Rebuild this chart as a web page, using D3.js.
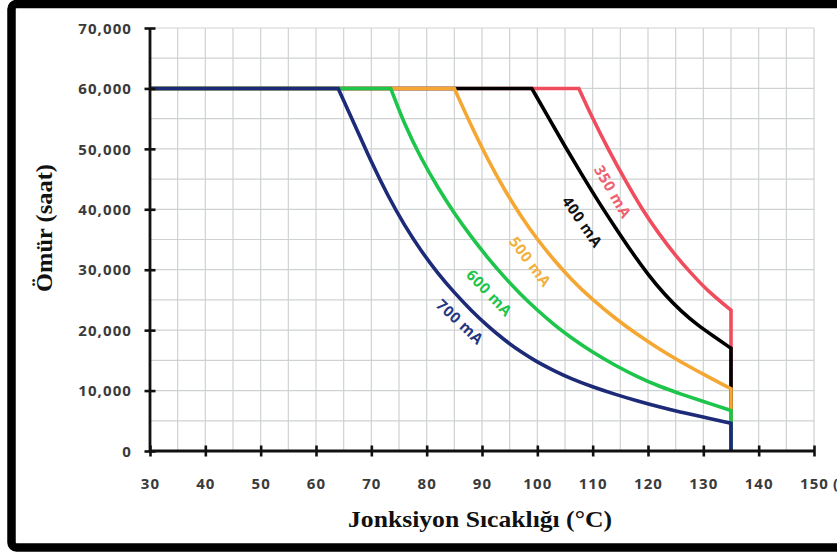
<!DOCTYPE html>
<html>
<head>
<meta charset="utf-8">
<script src="https://cdn.jsdelivr.net/npm/d3@7"></script>
<style>
  html, body { margin: 0; padding: 0; background: #fff; }
  svg { display: block; }
</style>
</head>
<body>
<svg id="chart" width="837" height="552"></svg>
<script>
// ---- Data ----
const xTicks = [30, 40, 50, 60, 70, 80, 90, 100, 110, 120, 130, 140, 150];
const yTicks = [0, 10000, 20000, 30000, 40000, 50000, 60000, 70000];
const seriesNames = ["350 mA", "400 mA", "500 mA", "600 mA", "700 mA"];

const t350 = [30, 107.5, 110, 113, 116, 119, 122, 125, 128, 131, 135];
const v350 = [60000, 60000, 55000, 49600, 44600, 39900, 35900, 32300, 29200, 26300, 23300];

const t400 = [30, 99, 102, 105, 108, 111, 114, 117, 120, 123, 126, 129, 132, 135];
const v400 = [60000, 60000, 55200, 50400, 45800, 41300, 37100, 33000, 29200, 25900, 23100, 20800, 18900, 17000];

const t500 = [30, 85, 88, 91, 94, 97, 100, 103, 106, 110, 114, 118, 122, 126, 130, 135];
const v500 = [60000, 60000, 53900, 48300, 43300, 38900, 35000, 31600, 28500, 25000, 22000, 19300, 16900, 14700, 12700, 10300];

const t600 = [30, 73.5, 76, 79, 82, 85, 88, 91, 94, 97, 100, 103, 106, 110, 114, 118, 122, 126, 130, 135];
const v600 = [60000, 60000, 54000, 48400, 43600, 39300, 35500, 32000, 28800, 25900, 23300, 20900, 18800, 16300, 14200, 12300, 10700, 9400, 8200, 6700];

const t700 = [30, 64, 67, 70, 73, 76, 79, 82, 85, 88, 91, 94, 97, 100, 103, 106, 110, 114, 118, 122, 126, 130, 135];
const v700 = [60000, 60000, 54000, 47800, 42200, 37300, 33100, 29400, 26200, 23300, 20700, 18400, 16400, 14700, 13300, 12000, 10600, 9400, 8300, 7300, 6400, 5600, 4600];

// label anchor (data coords) and rotation
const labelT = [113.6, 108.1, 98.7, 91.3, 86.0];
const labelV = [42900, 37900, 31300, 26150, 21350];
const labelAngle = [60, 55, 53, 46, 43];

const lineColors = ["#ef4d5d", "#000000", "#f5a733", "#1ec54b", "#1c2a78"];
const labelColors = ["#f0606e", "#111111", "#f2b03c", "#1ec54b", "#24367f"];

const seriesT = [t350, t400, t500, t600, t700];
const seriesV = [v350, v400, v500, v600, v700];

// ---- Drawing ----
const svg = d3.select("#chart");

// outer black frame (open to the right, like the cropped reference)
svg.append("rect")
  .attr("x", 11.5).attr("y", 4)
  .attr("width", 1000).attr("height", 543.5)
  .attr("rx", 5)
  .attr("fill", "#fff")
  .attr("stroke", "#000")
  .attr("stroke-width", 8.5);

const x = d3.scaleLinear().domain([30, 150]).range([150, 814]);
const y = d3.scaleLinear().domain([0, 70000]).range([451, 28]);

// grid
const g = svg.append("g");
const gridX = d3.range(30, 150.1, 5);
const gridY = d3.range(0, 70000.1, 5000);
g.selectAll("line.gx").data(gridX).enter().append("line")
  .attr("x1", d => x(d)).attr("x2", d => x(d))
  .attr("y1", y(0)).attr("y2", y(70000))
  .attr("stroke", "#cfd2d2").attr("stroke-width", 1.2);
g.selectAll("line.gy").data(gridY).enter().append("line")
  .attr("x1", x(30)).attr("x2", x(150))
  .attr("y1", d => y(d)).attr("y2", d => y(d))
  .attr("stroke", "#cfd2d2").attr("stroke-width", 1.2);

// series
const curveGen = d3.line().x(d => x(d[0])).y(d => y(d[1])).curve(d3.curveBasis);
const plot = svg.append("g");
seriesT.forEach((ts, i) => {
  const vs = seriesV[i];
  const pts = ts.map((t, k) => [t, vs[k]]);
  const curvePart = curveGen(pts.slice(1));
  const last = pts[pts.length - 1];
  const d = "M" + x(pts[0][0]) + "," + y(pts[0][1]) +
            "L" + curvePart.slice(1) +
            "L" + x(last[0]) + "," + y(0);
  plot.append("path")
    .attr("d", d)
    .attr("fill", "none")
    .attr("stroke", lineColors[i])
    .attr("stroke-width", 3.6)
    .attr("stroke-linejoin", "miter");
});

// axes
const fontTick = "'Open Sans', 'DejaVu Sans', sans-serif";
const xAxis = svg.append("g").attr("transform", `translate(0,${y(0)})`)
  .call(d3.axisBottom(x).tickValues(xTicks).tickSize(6).tickPadding(0).tickFormat(d3.format("d")));
const yAxis = svg.append("g").attr("transform", `translate(${x(30)},0)`)
  .call(d3.axisLeft(y).tickValues(yTicks).tickSize(6).tickPadding(0).tickFormat(d3.format(",")));

[xAxis, yAxis].forEach(ax => {
  ax.select(".domain").attr("stroke", "#111").attr("stroke-width", 2.8);
  ax.selectAll(".tick line").attr("stroke", "#111").attr("stroke-width", 2.6);
  ax.selectAll(".tick text")
    .attr("fill", "#3a3a3a")
    .style("font-family", fontTick)
    .style("font-weight", "700")
    .style("font-size", "15px")
    .style("letter-spacing", "1.1px");
});
xAxis.select(".domain").attr("d", `M${x(30)},0H${x(150)}`);
yAxis.select(".domain").attr("d", `M0,${y(0)}V${y(70000)}`);
xAxis.selectAll(".tick line").attr("y1", -5.5).attr("y2", 5.5);
yAxis.selectAll(".tick line").attr("x1", -5.5).attr("x2", 5.5);
xAxis.selectAll(".tick text").attr("y", 27).attr("dy", "0.71em");
yAxis.selectAll(".tick text").attr("x", -18).attr("dy", "0.35em");

// unit label cut off at the right edge in the reference
svg.append("text")
  .attr("x", x(150) + 19).attr("y", y(0) + 27).attr("dy", "0.71em")
  .attr("fill", "#3a3a3a")
  .style("font-family", fontTick).style("font-weight", "700").style("font-size", "15px")
  .text("(°C)");

// series labels
seriesNames.forEach((name, i) => {
  svg.append("text")
    .attr("transform", `translate(${x(labelT[i])},${y(labelV[i])}) rotate(${labelAngle[i]})`)
    .attr("text-anchor", "middle")
    .attr("dy", "0.35em")
    .attr("fill", labelColors[i])
    .style("font-family", fontTick)
    .style("font-weight", "700")
    .style("font-size", "15px")
    .style("letter-spacing", "0.6px")
    .text(name);
});

// axis titles
const fontTitle = "'Liberation Serif', 'DejaVu Serif', serif";
svg.append("text")
  .attr("transform", `translate(52,228) rotate(-90)`)
  .attr("text-anchor", "middle")
  .attr("fill", "#111")
  .attr("textLength", 128).attr("lengthAdjust", "spacingAndGlyphs")
  .style("font-family", fontTitle).style("font-weight", "700").style("font-size", "23px")
  .text("Ömür (saat)");

svg.append("text")
  .attr("x", 480).attr("y", 527)
  .attr("text-anchor", "middle")
  .attr("fill", "#111")
  .attr("textLength", 264).attr("lengthAdjust", "spacingAndGlyphs")
  .style("font-family", fontTitle).style("font-weight", "700").style("font-size", "23px")
  .text("Jonksiyon Sıcaklığı (°C)");
</script>
</body>
</html>
